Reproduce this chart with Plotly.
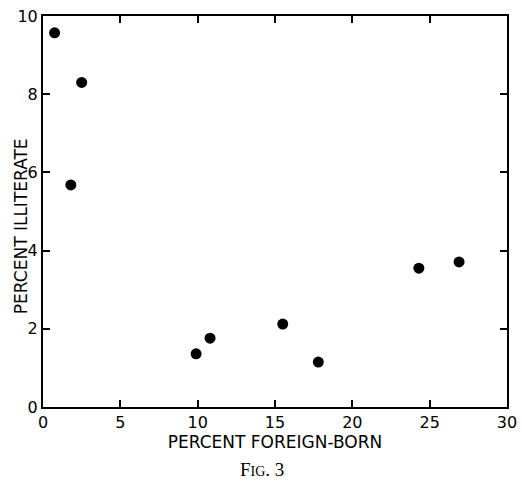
import plotly.graph_objects as go

foreign_born = [0.75, 2.5, 1.8, 9.9, 10.8, 15.5, 17.8, 24.3, 26.9]
illiterate = [9.57, 8.3, 5.68, 1.36, 1.76, 2.12, 1.15, 3.55, 3.71]
x_ticks = [0, 5, 10, 15, 20, 25, 30]
y_ticks = [0, 2, 4, 6, 8, 10]
x_title = "PERCENT FOREIGN-BORN"
y_title = "PERCENT ILLITERATE"
caption = "F<span style='font-size:14px'>IG</span>. 3"

fig = go.Figure()
fig.add_trace(go.Scatter(
    x=foreign_born, y=illiterate, mode="markers",
    marker=dict(color="black", size=11, line=dict(width=0)),
    showlegend=False, cliponaxis=False,
))

axis_common = dict(
    showgrid=False, zeroline=False, showline=True, linecolor="black", linewidth=2,
    mirror="ticks", ticks="inside", ticklen=7, tickwidth=2, tickcolor="black",
    automargin=False, ticklabeloverflow="allow",
    tickfont=dict(family="DejaVu Sans", size=16, color="black"),
)

fig.update_layout(
    width=522, height=489,
    margin=dict(l=43, r=15, t=16, b=82),
    paper_bgcolor="white", plot_bgcolor="white",
    xaxis=dict(range=[0, 30], tickvals=x_ticks, **axis_common,
               title=dict(text=x_title, standoff=2,
                          font=dict(family="DejaVu Sans", size=17, color="black"))),
    yaxis=dict(range=[0, 10], tickvals=y_ticks, **axis_common),
    annotations=[
        dict(text=y_title, textangle=-90, xref="paper", yref="paper",
             x=-0.047, y=0.463, xanchor="center", yanchor="middle", showarrow=False,
             font=dict(family="DejaVu Sans", size=17, color="black")),
        dict(text=caption, xref="paper", yref="paper", x=0.472, y=-0.161,
             xanchor="center", yanchor="middle", showarrow=False,
             font=dict(family="Liberation Serif", size=19, color="black")),
    ],
)

# remove the browser's default 8px body margin so the figure fills the window
fig.write_html(
    "out.html",
    config={"displayModeBar": False},
    post_script="document.body.style.margin='0';document.body.style.overflow='hidden';",
)
